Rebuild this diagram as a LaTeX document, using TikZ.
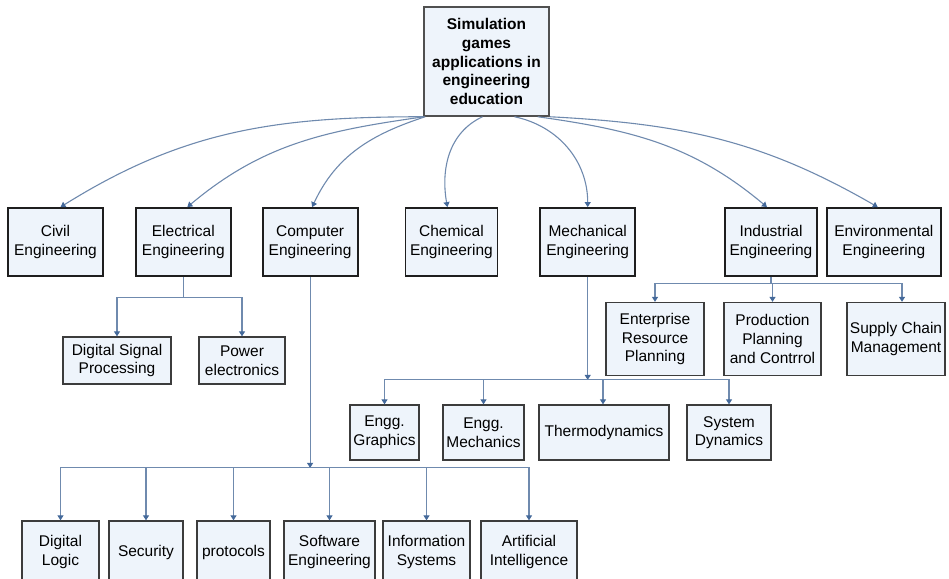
\documentclass[tikz,border=0pt]{standalone}
\usepackage{fontspec}
\setmainfont{Liberation Sans}
\usepackage{tikz}
\usetikzlibrary{positioning, arrows.meta}

\definecolor{boxfill}{HTML}{EEF4FB}
\definecolor{rootline}{HTML}{505050}
\definecolor{fieldline}{HTML}{1E1E1E}
\definecolor{topicline}{HTML}{3C3C3C}
\definecolor{linkcol}{HTML}{6F8AAE}
\definecolor{tipcol}{HTML}{44699A}

\begin{document}
\begin{tikzpicture}[x=1pt, y=1pt,
    rootbox/.style={draw=rootline, line width=1.5pt, fill=boxfill, align=center,
        minimum width=125pt, minimum height=109pt, inner sep=1pt,
        font=\bfseries\fontsize{15.5}{18.6}\selectfont},
    field/.style={draw=fieldline, line width=1.8pt, fill=boxfill, align=center,
        minimum height=68pt, inner sep=1pt, font=\fontsize{15.5}{18.6}\selectfont},
    topic/.style={draw=topicline, line width=1.3pt, fill=boxfill, align=center,
        inner sep=1pt, font=\fontsize{15.5}{18.6}\selectfont},
    link/.style={linkcol, line width=1.1pt},
    arrowed/.style={-{Triangle[width=6pt, length=5pt, color=tipcol]}}]
    \path[use as bounding box, clip] (0,0) rectangle (949,-578);

    \node (root) [rootbox] at (486.5,-61.5)
        {Simulation\\games\\applications in\\engineering\\education};

    \node (civil) [field, minimum width=95pt] at (55.5,-242) {Civil\\Engineering};
    \node (elec) [field, minimum width=95pt, right=31pt of civil] {Electrical\\Engineering};
    \node (comp) [field, minimum width=95pt, right=30pt of elec] {Computer\\Engineering};
    \node (chem) [field, minimum width=92pt, right=46pt of comp] {Chemical\\Engineering};
    \node (mech) [field, minimum width=95pt, right=41pt of chem] {Mechanical\\Engineering};
    \node (indus) [field, minimum width=92pt, right=88pt of mech] {Industrial\\Engineering};
    \node (envir) [field, minimum width=114pt, right=8pt of indus] {Environmental\\Engineering};

    \node (dsp) [topic, minimum width=108pt, minimum height=47pt] at (117,-360.5)
        {Digital Signal\\Processing};
    \node (power) [topic, minimum width=86pt, minimum height=47pt, right=26.7pt of dsp]
        {Power\\electronics};

    \node (erp) [topic, minimum width=98pt, minimum height=73pt] at (655,-339)
        {Enterprise\\Resource\\Planning};
    \node (ppc) [topic, minimum width=97pt, minimum height=73pt, right=18.7pt of erp]
        {Production\\Planning\\and Contrrol};
    \node (scm) [topic, minimum width=98pt, minimum height=73pt, right=24.7pt of ppc]
        {Supply Chain\\Management};

    \node (graph) [topic, minimum width=69pt, minimum height=55pt] at (384.5,-432.5)
        {Engg.\\Graphics};
    \node (emech) [topic, minimum width=81pt, minimum height=55pt, right=22.7pt of graph]
        {Engg.\\Mechanics};
    \node (thermo) [topic, minimum width=130pt, minimum height=55pt, right=13.7pt of emech]
        {Thermodynamics};
    \node (sysdyn) [topic, minimum width=84pt, minimum height=55pt, right=16.7pt of thermo]
        {System\\Dynamics};

    \node (dlogic) [topic, minimum width=77pt, minimum height=62pt] at (60.5,-552)
        {Digital\\Logic};
    \node (secur) [topic, minimum width=74pt, minimum height=62pt, right=8.7pt of dlogic]
        {Security};
    \node (proto) [topic, minimum width=73pt, minimum height=62pt, right=12.7pt of secur]
        {protocols};
    \node (softw) [topic, minimum width=91pt, minimum height=62pt, right=12.7pt of proto]
        {Software\\Engineering};
    \node (infos) [topic, minimum width=87pt, minimum height=62pt, right=6.7pt of softw]
        {Information\\Systems};
    \node (artif) [topic, minimum width=96pt, minimum height=62pt, right=9.7pt of infos]
        {Artificial\\Intelligence};

    % root to the branches
    \draw[link, arrowed] (root.south west) to[out=180, in=32] ([xshift=5pt]civil.north);
    \draw[link, arrowed] ([xshift=1pt]root.south west) to[out=188, in=40] ([xshift=4pt]elec.north);
    \draw[link, arrowed] ([xshift=2pt]root.south west) to[out=198, in=65] ([xshift=2pt]comp.north);
    \draw[link, arrowed] ([xshift=-4pt]root.south) to[out=205, in=100] ([xshift=-4pt]chem.north);
    \draw[link, arrowed] ([xshift=28pt]root.south) to[out=-12, in=90] (mech.north);
    \draw[link, arrowed] ([xshift=-12pt]root.south east) to[out=-8, in=140] ([xshift=-4pt]indus.north);
    \draw[link, arrowed] (root.south east) to[out=-3, in=150] ([xshift=-6pt]envir.north);

    % electrical
    \draw[link] (elec.south) -- ++(0,-21) coordinate (elecfork);
    \draw[link, arrowed] (elecfork) -| (dsp.north);
    \draw[link, arrowed] (elecfork) -| (power.north);

    % computer
    \draw[link, arrowed] (comp.south) -- ++(0,-191) coordinate (compfork);
    \draw[link, arrowed] (compfork) -| (dlogic.north);
    \draw[link, arrowed] (compfork) -| (secur.north);
    \draw[link, arrowed] (compfork) -| (proto.north);
    \draw[link, arrowed] (compfork) -| (softw.north);
    \draw[link, arrowed] (compfork) -| (infos.north);
    \draw[link, arrowed] (compfork) -| (artif.north);

    % mechanical
    \draw[link, arrowed] (mech.south) -- ++(0,-103) coordinate (mechfork);
    \draw[link, arrowed] (mechfork) -| (graph.north);
    \draw[link, arrowed] (mechfork) -| (emech.north);
    \draw[link, arrowed] (mechfork) -| ([xshift=-1pt]thermo.north);
    \draw[link, arrowed] (mechfork) -| (sysdyn.north);

    % industrial
    \draw[link] (indus.south) -- ++(0,-7) coordinate (indusfork);
    \draw[link, arrowed] (indusfork) -| (erp.north);
    \draw[link, arrowed] (indusfork) -| (ppc.north);
    \draw[link, arrowed] (indusfork) -| ([xshift=6pt]scm.north);
\end{tikzpicture}
\end{document}
